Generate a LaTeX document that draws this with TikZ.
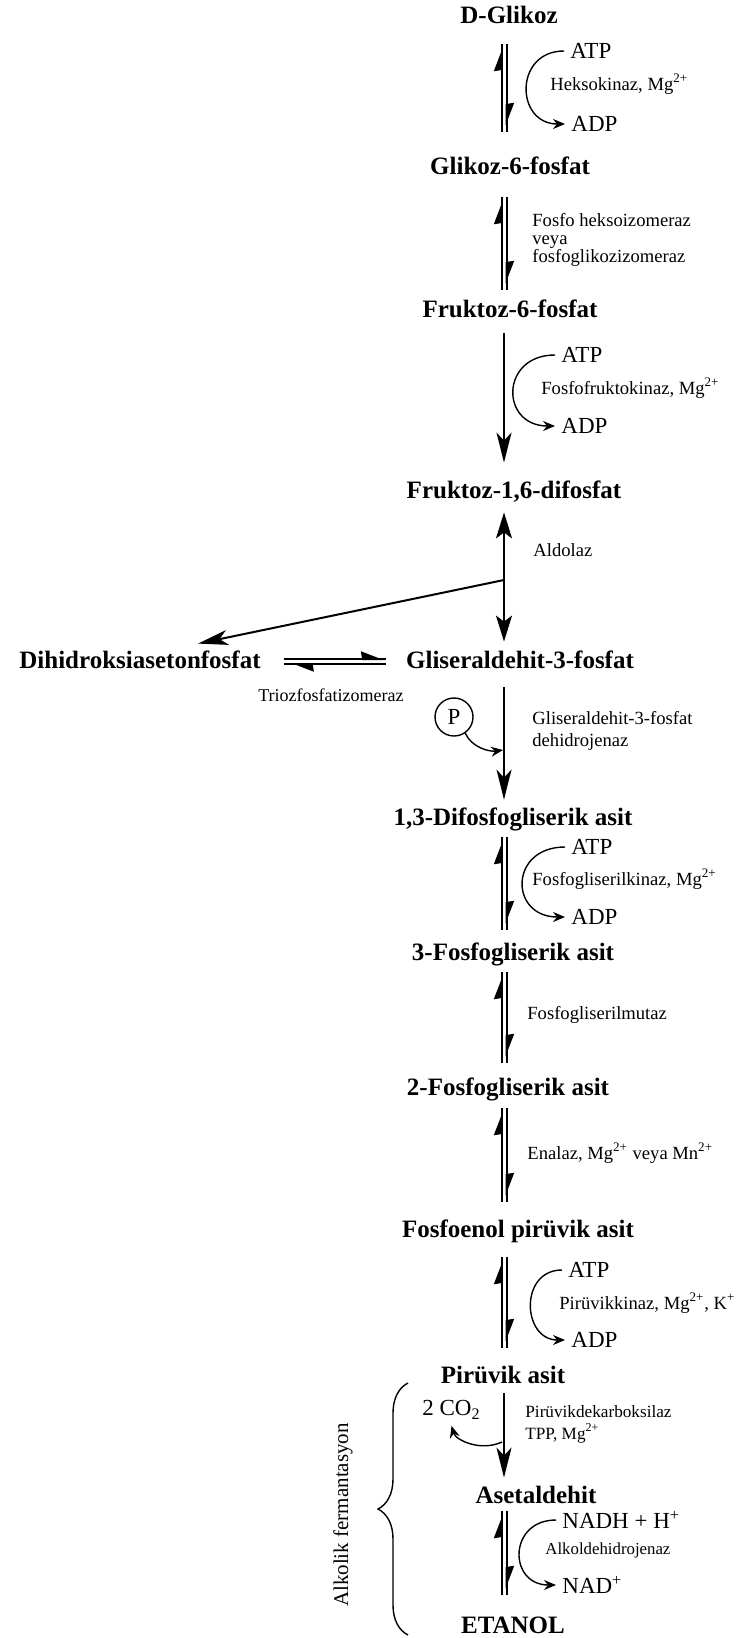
\documentclass[tikz,border=0pt]{standalone}
\usepackage{fontspec}
\setmainfont{Liberation Serif}
\usetikzlibrary{arrows.meta,calc,decorations.pathreplacing}
\tikzset{
    metab/.style={inner sep=0pt,anchor=base,text height=9pt,text depth=0pt,font=\fontsize{12.5}{14}\selectfont\bfseries},
    cofac/.style={inner sep=3pt,anchor=west,font=\fontsize{11.5}{13}\selectfont},
    enzyme/.style={inner sep=0pt,anchor=west,align=left,font=\fontsize{9.3}{11}\selectfont},
    bar/.style={line width=1pt},
    harp/.style={line width=1pt,-{Stealth[harpoon,length=10pt,width=7.5pt,inset=0.5pt]}},
    single/.style={line width=1pt,-{Stealth[length=15pt,width=7.5pt,inset=4pt]}},
    cofarrow/.style={line width=0.7pt,-{Stealth[length=6pt,width=5pt,inset=2pt]}},
    brace/.style={line width=0.7pt,decorate,decoration={brace,amplitude=15pt}},
}
% two harpoons between two metabolites: upper, lower, top gap, bottom gap
\newcommand{\eqarrow}[4]{%
  \draw[bar,shorten <=#3,shorten >=#4] (#1.south -| axl) -- (#2.north -| axl);
  \draw[bar,shorten <=#3,shorten >=#4] (#1.south -| axr) -- (#2.north -| axr);
  \draw[harp,shorten <=#4,shorten >=#3+2pt] (#2.north -| axl) -- (#1.south -| axl);
  \draw[harp,shorten <=#3,shorten >=#4+3pt] (#1.south -| axr) -- (#2.north -| axr);
}
\begin{document}
\begin{tikzpicture}[x=0.5pt,y=-0.5pt]
\useasboundingbox (0,0) rectangle (743,1638);
\coordinate (ax) at (504,0);
\coordinate (axl) at (501.5,0);
\coordinate (axr) at (506.5,0);

% metabolites
\node[metab] (glu) at (509,24) {D-Glikoz};
\node[metab] (g6p) at (510,174) {Glikoz-6-fosfat};
\node[metab] (f6p) at (510,317) {Fruktoz-6-fosfat};
\node[metab] (fbp) at (514,498) {Fruktoz-1,6-difosfat};
\node[metab] (dhap) at (140,668) {Dihidroksiasetonfosfat};
\node[metab] (gap) at (520,668) {Gliseraldehit-3-fosfat};
\node[metab] (bpg) at (513,825) {1,3-Difosfogliserik asit};
\node[metab] (pg3) at (513,960) {3-Fosfogliserik asit};
\node[metab] (pg2) at (508,1095) {2-Fosfogliserik asit};
\node[metab] (pep) at (518,1237) {Fosfoenol pirüvik asit};
\node[metab] (pyr) at (503,1383) {Pirüvik asit};
\node[metab] (acet) at (536,1503) {Asetaldehit};
\node[metab] (etoh) at (513,1633) {ETANOL};

% cofactors and enzymes
\node[cofac] (atp1) at (564,51) {ATP};
\node[enzyme] (hk) at (550,84) {Heksokinaz, Mg\textsuperscript{2+}};
\node[cofac] (adp1) at (565,124) {ADP};
\node[enzyme,font=\fontsize{9.3}{9.2}\selectfont] (pgi) at (532,240) {Fosfo heksoizomeraz\\veya\\fosfoglikozizomeraz};
\node[cofac] (atp2) at (555,355) {ATP};
\node[enzyme] (pfk) at (541,388) {Fosfofruktokinaz, Mg\textsuperscript{2+}};
\node[cofac] (adp2) at (555,426) {ADP};
\node[enzyme] (ald) at (533,550) {Aldolaz};
\node[enzyme,anchor=center,font=\fontsize{9}{11}\selectfont] (tpi) at (331,695) {Triozfosfatizomeraz};
\node[circle,draw,line width=0.7pt,minimum size=19pt,inner sep=0pt,font=\fontsize{11.5}{13}\selectfont] (pho) at (454,717) {P};
\node[enzyme] (gapdh) at (532,731) {Gliseraldehit-3-fosfat\\dehidrojenaz};
\node[cofac] (atp3) at (565,847) {ATP};
\node[enzyme] (pgk) at (532,879) {Fosfogliserilkinaz, Mg\textsuperscript{2+}};
\node[cofac] (adp3) at (565,917) {ADP};
\node[enzyme] (pgm) at (527,1015) {Fosfogliserilmutaz};
\node[enzyme] (eno) at (527,1153) {Enalaz, Mg\textsuperscript{2+} veya Mn\textsuperscript{2+}};
\node[cofac] (atp4) at (562,1270) {ATP};
\node[enzyme] (pk) at (559,1303) {Pirüvikkinaz, Mg\textsuperscript{2+}, K\textsuperscript{+}};
\node[cofac] (adp4) at (565,1340) {ADP};
\node[cofac] (co2) at (416,1410) {2 CO\textsubscript{2}};
\node[enzyme,font=\fontsize{8.6}{11}\selectfont] (pdc) at (525,1424) {Pirüvikdekarboksilaz\\TPP, Mg\textsuperscript{2+}};
\node[cofac] (nadh) at (556,1520) {NADH + H\textsuperscript{+}};
\node[enzyme,font=\fontsize{8.4}{10}\selectfont] (adh) at (545,1550) {Alkoldehidrojenaz};
\node[cofac] (nad) at (556,1585) {NAD\textsuperscript{+}};
\node[rotate=90,font=\fontsize{10.5}{12}\selectfont] (alk) at (343,1515) {Alkolik fermantasyon};

% reactions
\eqarrow{glu}{g6p}{10pt}{12pt}
\draw[cofarrow] (atp1.west) .. controls +(-50,0) and +(-50,0) .. (adp1.west);
\eqarrow{g6p}{f6p}{11.5pt}{4.5pt}
\draw[single,shorten <=8pt,shorten >=8.5pt] (f6p.south -| ax) -- (fbp.north -| ax);
\draw[cofarrow] (atp2.west) .. controls +(-55,0) and +(-55,0) .. (adp2.west);
\draw[line width=1pt,{Stealth[length=13pt,width=8pt,inset=3pt]}-{Stealth[length=13pt,width=8pt,inset=3pt]},shorten <=7pt,shorten >=4pt] (fbp.south -| ax) -- (gap.north -| ax);
\coordinate (br) at (504,580);
\coordinate (dhapin) at ($(dhap.north)+(58,-6)$);
\draw[single] (br) -- (dhapin);
\draw[bar,shorten <=11.5pt,shorten >=10pt] (dhap.east) -- (gap.west);
\draw[bar,shorten <=11.5pt,shorten >=10pt] ([yshift=-2.5pt]dhap.east) -- ([yshift=-2.5pt]gap.west);
\draw[harp,shorten <=11.5pt,shorten >=11pt] (dhap.east) -- (gap.west);
\draw[harp,shorten <=10pt,shorten >=15pt] ([yshift=-2.5pt]gap.west) -- ([yshift=-2.5pt]dhap.east);
\draw[single,shorten <=9.5pt,shorten >=3.5pt] (gap.south -| ax) -- (bpg.north -| ax);
\coordinate (pin) at (503,750);
\draw[cofarrow] (pho.-55) .. controls +(6,14) and +(-14,2) .. (pin);
\eqarrow{bpg}{pg3}{6pt}{6pt}
\draw[cofarrow] (atp3.west) .. controls +(-56,0) and +(-56,0) .. (adp3.west);
\eqarrow{pg3}{pg2}{6pt}{7pt}
\eqarrow{pg2}{pep}{6.5pt}{8.5pt}
\eqarrow{pep}{pyr}{10pt}{8.5pt}
\draw[cofarrow] (atp4.west) .. controls +(-43,0) and +(-43,0) .. (adp4.west);
\draw[single,shorten <=5pt,shorten >=3.5pt] (pyr.south -| ax) -- (acet.north -| ax);
\coordinate (cout) at (502,1442);
\draw[cofarrow] (cout) .. controls +(-22,10) and +(4,14) .. (co2.south);
\eqarrow{acet}{etoh}{4pt}{10pt}
\draw[cofarrow] (nadh.west) .. controls +(-48,0) and +(-48,0) .. (nad.west);
\draw[brace] (408,1635) -- (408,1383);
\end{tikzpicture}
\end{document}
